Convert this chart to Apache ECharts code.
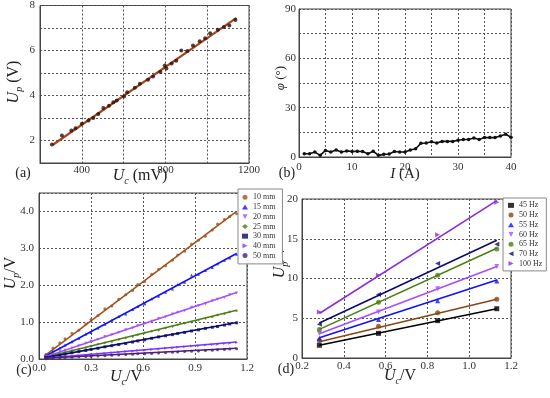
<!DOCTYPE html>
<html><head><meta charset="utf-8">
<script src="https://cdn.jsdelivr.net/npm/echarts@6/dist/echarts.min.js"></script>
<style>html,body{margin:0;padding:0;background:#fff}#c{width:550px;height:398px}</style>
</head><body><div id="c"></div>
<script>
// ---- Panel (a) ----
const aX = [257,305,350,370,400,432,455,479,503,530,551,567,602,617,654,678,717,741,776,797,805,830,852,876,905,932,964,990,1014,1051,1080,1106,1135];
const aY = [1.82,2.22,2.45,2.55,2.74,2.89,3.0,3.18,3.44,3.55,3.70,3.78,3.96,4.15,4.34,4.52,4.70,4.85,5.04,5.33,5.20,5.42,5.55,6.00,5.98,6.22,6.41,6.55,6.77,6.92,7.05,7.11,7.36];
const aFitX = [260,1140];
const aFitY = [1.80,7.45];
const aXTicks = [400,800,1200];
const aYTicks = [2,4,6,8];

// ---- Panel (b) ----
const bI = [1,2,3,4,5,6,7,8,9,10,11,12,13,14,15,16,17,18,19,20,21,22,23,24,25,26,27,28,29,30,31,32,33,34,35,36,37,38,39,40];
const bPhi = [2,2,3,1,4,3,4.3,3,3.7,3.3,3.5,3.3,2,3.5,1,1.6,1.8,3.3,3,3,4.3,5,8.3,8.5,9.3,8.5,9.5,9.5,9.5,10.2,10.6,10.6,11.6,10.6,11.8,11.8,11.8,12.8,13.8,12];
const bXTicks = [0,10,20,30,40];
const bYTicks = [0,30,60,90];

// ---- Panel (c) ----
const cNames = ['10 mm','15 mm','20 mm','25 mm','30 mm','40 mm','50 mm'];
const cX = [0.04,0.08,0.12,0.15,0.19,0.23,0.27,0.30,0.34,0.38,0.42,0.46,0.50,0.54,0.57,0.61,0.65,0.69,0.73,0.77,0.80,0.84,0.88,0.92,0.96,1.00,1.03,1.07,1.10,1.14];
const c10 = [0.12,0.30,0.44,0.55,0.70,0.78,0.95,1.07,1.18,1.36,1.44,1.62,1.74,1.86,2.02,2.10,2.30,2.43,2.53,2.68,2.82,2.92,3.12,3.22,3.33,3.50,3.66,3.78,3.86,3.94];
const c15 = [0.10,0.22,0.30,0.38,0.47,0.56,0.68,0.72,0.84,0.94,1.05,1.15,1.22,1.34,1.42,1.50,1.63,1.70,1.81,1.90,2.02,2.08,2.28,2.30,2.40,2.48,2.58,2.68,2.74,2.84];
const c20 = [0.07,0.13,0.20,0.24,0.30,0.36,0.43,0.48,0.53,0.61,0.66,0.71,0.79,0.84,0.91,0.96,1.02,1.10,1.14,1.22,1.27,1.31,1.40,1.45,1.49,1.58,1.62,1.67,1.74,1.79];
const c25 = [0.05,0.10,0.14,0.18,0.23,0.27,0.30,0.35,0.40,0.44,0.47,0.53,0.57,0.61,0.66,0.71,0.75,0.78,0.84,0.88,0.93,0.97,1.00,1.06,1.10,1.14,1.19,1.23,1.28,1.31];
const c30 = [0.04,0.07,0.10,0.13,0.17,0.20,0.23,0.26,0.29,0.33,0.36,0.39,0.42,0.46,0.49,0.52,0.56,0.60,0.63,0.66,0.69,0.72,0.76,0.79,0.83,0.86,0.88,0.92,0.95,0.98];
const c40 = [0.02,0.04,0.05,0.06,0.08,0.09,0.11,0.12,0.14,0.15,0.17,0.18,0.20,0.21,0.23,0.24,0.26,0.27,0.29,0.30,0.32,0.33,0.35,0.36,0.38,0.39,0.40,0.42,0.43,0.45];
const c50 = [0.01,0.02,0.03,0.04,0.05,0.06,0.07,0.07,0.08,0.09,0.10,0.11,0.12,0.13,0.14,0.14,0.15,0.16,0.17,0.18,0.19,0.20,0.21,0.22,0.23,0.24,0.25,0.26,0.27,0.28];
const cFitX = [0.03,1.14];
const cFitStart = [0.08,0.06,0.05,0.04,0.03,0.02,0.02];
const cFitEnd = [4.00,2.86,1.80,1.32,0.99,0.46,0.29];
const cXTicks = [0,0.3,0.6,0.9,1.2];
const cYTicks = [0,1,2,3,4];

// ---- Panel (d) ----
const dNames = ['45 Hz','50 Hz','55 Hz','60 Hz','65 Hz','70 Hz','100 Hz'];
const dX = [0.283,0.566,0.849,1.132];
const d45 = [1.6,3.1,4.7,6.2];
const d50 = [2.2,4.0,5.7,7.4];
const d55 = [2.5,4.85,7.2,9.7];
const d60 = [3.1,5.8,8.7,11.5];
const d65 = [3.6,7.0,10.4,13.7];
const d70 = [4.25,8.0,11.9,14.3];
const d100 = [5.8,10.4,15.5,19.6];
const dFitX = [0.283,1.132];
const dFitStart = [1.6,2.05,2.55,3.05,3.6,4.4,5.6];
const dFitEnd = [6.2,7.4,9.8,11.5,13.8,14.8,19.8];
const dXTicks = [0.2,0.4,0.6,0.8,1.0,1.2];
const dYTicks = [0,5,10,15,20];

const FONT = 'Liberation Serif';
const cCols = ['#a0521e','#1010ff','#a64dff','#4b7f12','#0a0a6e','#7a33ff','#4b1e78'];
const cSyms = ['circle','triangle','path://M0,0 L10,0 L5,10 Z','diamond','rect','path://M0,0 L10,5 L0,10 Z','circle'];
const dCols = ['#000000','#8b4513','#1010ff','#a64dff','#4b7f12','#0a0a6e','#8a2be2'];
const dSyms = ['rect','circle','triangle','path://M0,0 L10,0 L5,10 Z','circle','path://M10,0 L10,10 L0,5 Z','path://M0,0 L10,5 L0,10 Z'];
const cVals = [c10,c15,c20,c25,c30,c40,c50];
const dVals = [d45,d50,d55,d60,d65,d70,d100];

function pairs(xs, ys){ return xs.map((x,i)=>[x,ys[i]]); }
function ax(gi,min,max,interval,labels,margin,fmt){
  return {type:'value',gridIndex:gi,min,max,interval,
    axisLine:{show:true,onZero:false,lineStyle:{color:'#444'}},
    axisTick:{show:false},
    minorTick:{show:false},
    splitLine:{show:true,lineStyle:{color:'#555',type:[2,2],width:1}},
    axisLabel:{show:true,margin,fontFamily:FONT,fontSize:11,color:'#333',
      formatter:(v)=>{const m=labels.find(l=>Math.abs(l-v)<1e-6);return m===undefined?'':(fmt?fmt(m):String(m));}}};
}
const f1 = (v)=>v.toFixed(1);

const series = [];
series.push({type:'scatter',xAxisIndex:0,yAxisIndex:0,data:pairs(aX,aY),symbol:'circle',symbolSize:4,itemStyle:{color:'#2a0f0a'},z:3});
series.push({type:'line',xAxisIndex:0,yAxisIndex:0,data:pairs(aFitX,aFitY),symbol:'none',lineStyle:{color:'#a8441e',width:2.2},z:2});
series.push({type:'line',xAxisIndex:1,yAxisIndex:1,data:pairs(bI,bPhi),symbol:'circle',symbolSize:3.5,itemStyle:{color:'#111'},lineStyle:{color:'#111',width:1.6},z:3});
cNames.forEach((n,k)=>{
  series.push({name:n,type:'scatter',xAxisIndex:2,yAxisIndex:2,data:pairs(cX,cVals[k]),symbol:cSyms[k],symbolSize:3,itemStyle:{color:cCols[k]},z:3});
  series.push({name:'fitc'+k,type:'line',xAxisIndex:2,yAxisIndex:2,data:[[cFitX[0],cFitStart[k]],[cFitX[1],cFitEnd[k]]],symbol:'none',lineStyle:{color:cCols[k],width:1.6},z:2});
});
dNames.forEach((n,k)=>{
  series.push({name:n,type:'scatter',xAxisIndex:3,yAxisIndex:3,data:pairs(dX,dVals[k]),symbol:dSyms[k],symbolSize:5,itemStyle:{color:dCols[k]},z:3});
  series.push({name:'fitd'+k,type:'line',xAxisIndex:3,yAxisIndex:3,data:[[dFitX[0],dFitStart[k]],[dFitX[1],dFitEnd[k]]],symbol:'none',lineStyle:{color:dCols[k],width:1.6},z:2});
});

const rich = {
  i:{fontFamily:FONT,fontStyle:'italic',fontSize:15,lineHeight:18,verticalAlign:'top',fill:'#222'},
  n:{fontFamily:FONT,fontSize:15,lineHeight:18,verticalAlign:'top',fill:'#222'},
  s:{fontFamily:FONT,fontStyle:'italic',fontSize:10,lineHeight:10,verticalAlign:'bottom',fill:'#222'}
};
function lbl(x,y,text,rot,size){
  const r = JSON.parse(JSON.stringify(rich));
  if(size){ r.i.fontSize=size; r.n.fontSize=size; r.s.fontSize=Math.round(size*0.65); }
  return {type:'text',x,y,rotation:rot||0,z:1,style:{text,rich:r,align:'center',verticalAlign:'middle'}};
}
const plain = (x,y,t)=>({type:'text',x,y,z:1,style:{text:t,fontFamily:FONT,fontSize:14,fill:'#222',align:'center',verticalAlign:'middle'}});

const legendBase = {orient:'vertical',backgroundColor:'#fff',borderColor:'#888',borderWidth:1,
  itemWidth:6,itemHeight:5,itemGap:1,textStyle:{fontFamily:FONT,fontSize:8,color:'#333',lineHeight:8.7},z:10};

const option = {
  animation:false,
  textStyle:{fontFamily:FONT},
  grid:[
    {left:40,right:301,top:5,bottom:235,show:true,borderColor:'#444',borderWidth:1},
    {left:299,right:39,top:9,bottom:241,show:true,borderColor:'#444',borderWidth:1},
    {left:39,right:303,top:193,bottom:39,show:true,borderColor:'#444',borderWidth:1},
    {left:302,right:39,top:199,bottom:40,show:true,borderColor:'#444',borderWidth:1}
  ],
  xAxis:[
    ax(0,200,1200,200,aXTicks,2),
    ax(1,0,40,5,bXTicks,5),
    ax(2,0,1.2,0.3,cXTicks,4,f1),
    ax(3,0.2,1.2,0.2,dXTicks,3,f1)
  ],
  yAxis:[
    ax(0,1,8,1,aYTicks,5),
    ax(1,0,90,15,bYTicks,3),
    ax(2,0,4.5,1,cYTicks,5,f1),
    ax(3,0,20,5,dYTicks,4)
  ],
  legend:[
    Object.assign({},legendBase,{left:238,top:189,padding:[4,7,4,4],data:cNames.map((n,k)=>({name:n,icon:cSyms[k]}))}),
    Object.assign({},legendBase,{left:503,top:198,padding:[3,4,3,5],data:dNames.map((n,k)=>({name:n,icon:dSyms[k]}))})
  ],
  series,
  graphic:[
    plain(23,173,'(a)'),
    lbl(140,177,'{i|U}{s|c}{n| (mV)}',0,16),
    lbl(15,82,'{i|U}{s|p}{n| (V)}',Math.PI/2,16),
    plain(287,173,'(b)'),
    lbl(405,176,'{i|I}{n| (A)}',0,15),
    lbl(283,78,'{i|φ}{n| (°)}',Math.PI/2,13),
    plain(24,370,'(c)'),
    lbl(126,378,'{i|U}{s|c}{n|/V}',0,16),
    lbl(12,273,'{i|U}{s|p}{n|/V}',Math.PI/2,16),
    plain(286,369,'(d)'),
    lbl(400,377,'{i|U}{s|c}{n|/V}',0,16),
    lbl(281,262,'{i|U}{s|p}{n|/V}',Math.PI/2,16)
  ]
};
const ch = echarts.init(document.getElementById('c'),null,{renderer:'canvas'});
ch.setOption(option);
</script></body></html>
